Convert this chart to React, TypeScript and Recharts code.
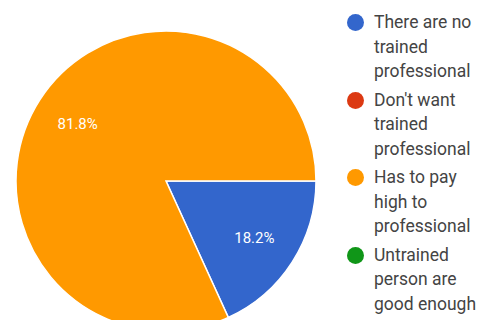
import { Pie, PieChart, Cell, Legend } from "recharts";

const CATEGORIES = [
  "There are no trained professional",
  "Don't want trained professional",
  "Has to pay high to professional",
  "Untrained person are good enough",
];
const RESPONSES = [2, 0, 9, 0];
const COLORS = ["#3366cc", "#dc3912", "#ff9900", "#109618"];

const data = CATEGORIES.map((name, i) => ({ name, value: RESPONSES[i] }));

const RADIAN = Math.PI / 180;

function renderLabel(props: any) {
  const { cx, cy, midAngle, outerRadius, percent } = props;
  if (!percent) return null;
  const r = outerRadius * 0.7;
  const x = cx + r * Math.cos(-midAngle * RADIAN);
  const y = cy + r * Math.sin(-midAngle * RADIAN);
  return (
    <text
      x={x}
      y={y}
      fill="#fff"
      fontSize={15}
      fontFamily="Roboto"
      textAnchor="middle"
      dominantBaseline="central"
    >
      {(percent * 100).toFixed(1)}%
    </text>
  );
}

function LegendList() {
  return (
    <div style={{ fontFamily: "Roboto", fontSize: 17.5, lineHeight: "24.5px", color: "#444" }}>
      {data.map((d, i) => (
        <div key={d.name} style={{ display: "flex", alignItems: "flex-start", marginBottom: 4 }}>
          <span
            style={{
              width: 17,
              height: 17,
              borderRadius: "50%",
              background: COLORS[i],
              marginTop: 4,
              marginRight: 10,
              flex: "none",
            }}
          />
          <span style={{ width: 112 }}>{d.name}</span>
        </div>
      ))}
    </div>
  );
}

export default function App() {
  return (
    <div style={{ position: "absolute", left: 0, top: 0, width: 491, height: 320, background: "#fff" }}>
      <PieChart width={491} height={320} margin={{ top: 0, right: 0, bottom: 0, left: 0 }}>
        <Pie
          data={data}
          dataKey="value"
          nameKey="name"
          cx={166}
          cy={181}
          outerRadius={150}
          startAngle={0}
          endAngle={-360}
          stroke="#fff"
          strokeWidth={1.5}
          label={renderLabel}
          labelLine={false}
          isAnimationActive={false}
        >
          {data.map((entry, index) => (
            <Cell key={entry.name} fill={COLORS[index]} />
          ))}
        </Pie>
        <Legend
          layout="vertical"
          align="right"
          verticalAlign="top"
          content={() => <LegendList />}
          wrapperStyle={{ left: 347, top: 10, width: 144 }}
        />
      </PieChart>
    </div>
  );
}
